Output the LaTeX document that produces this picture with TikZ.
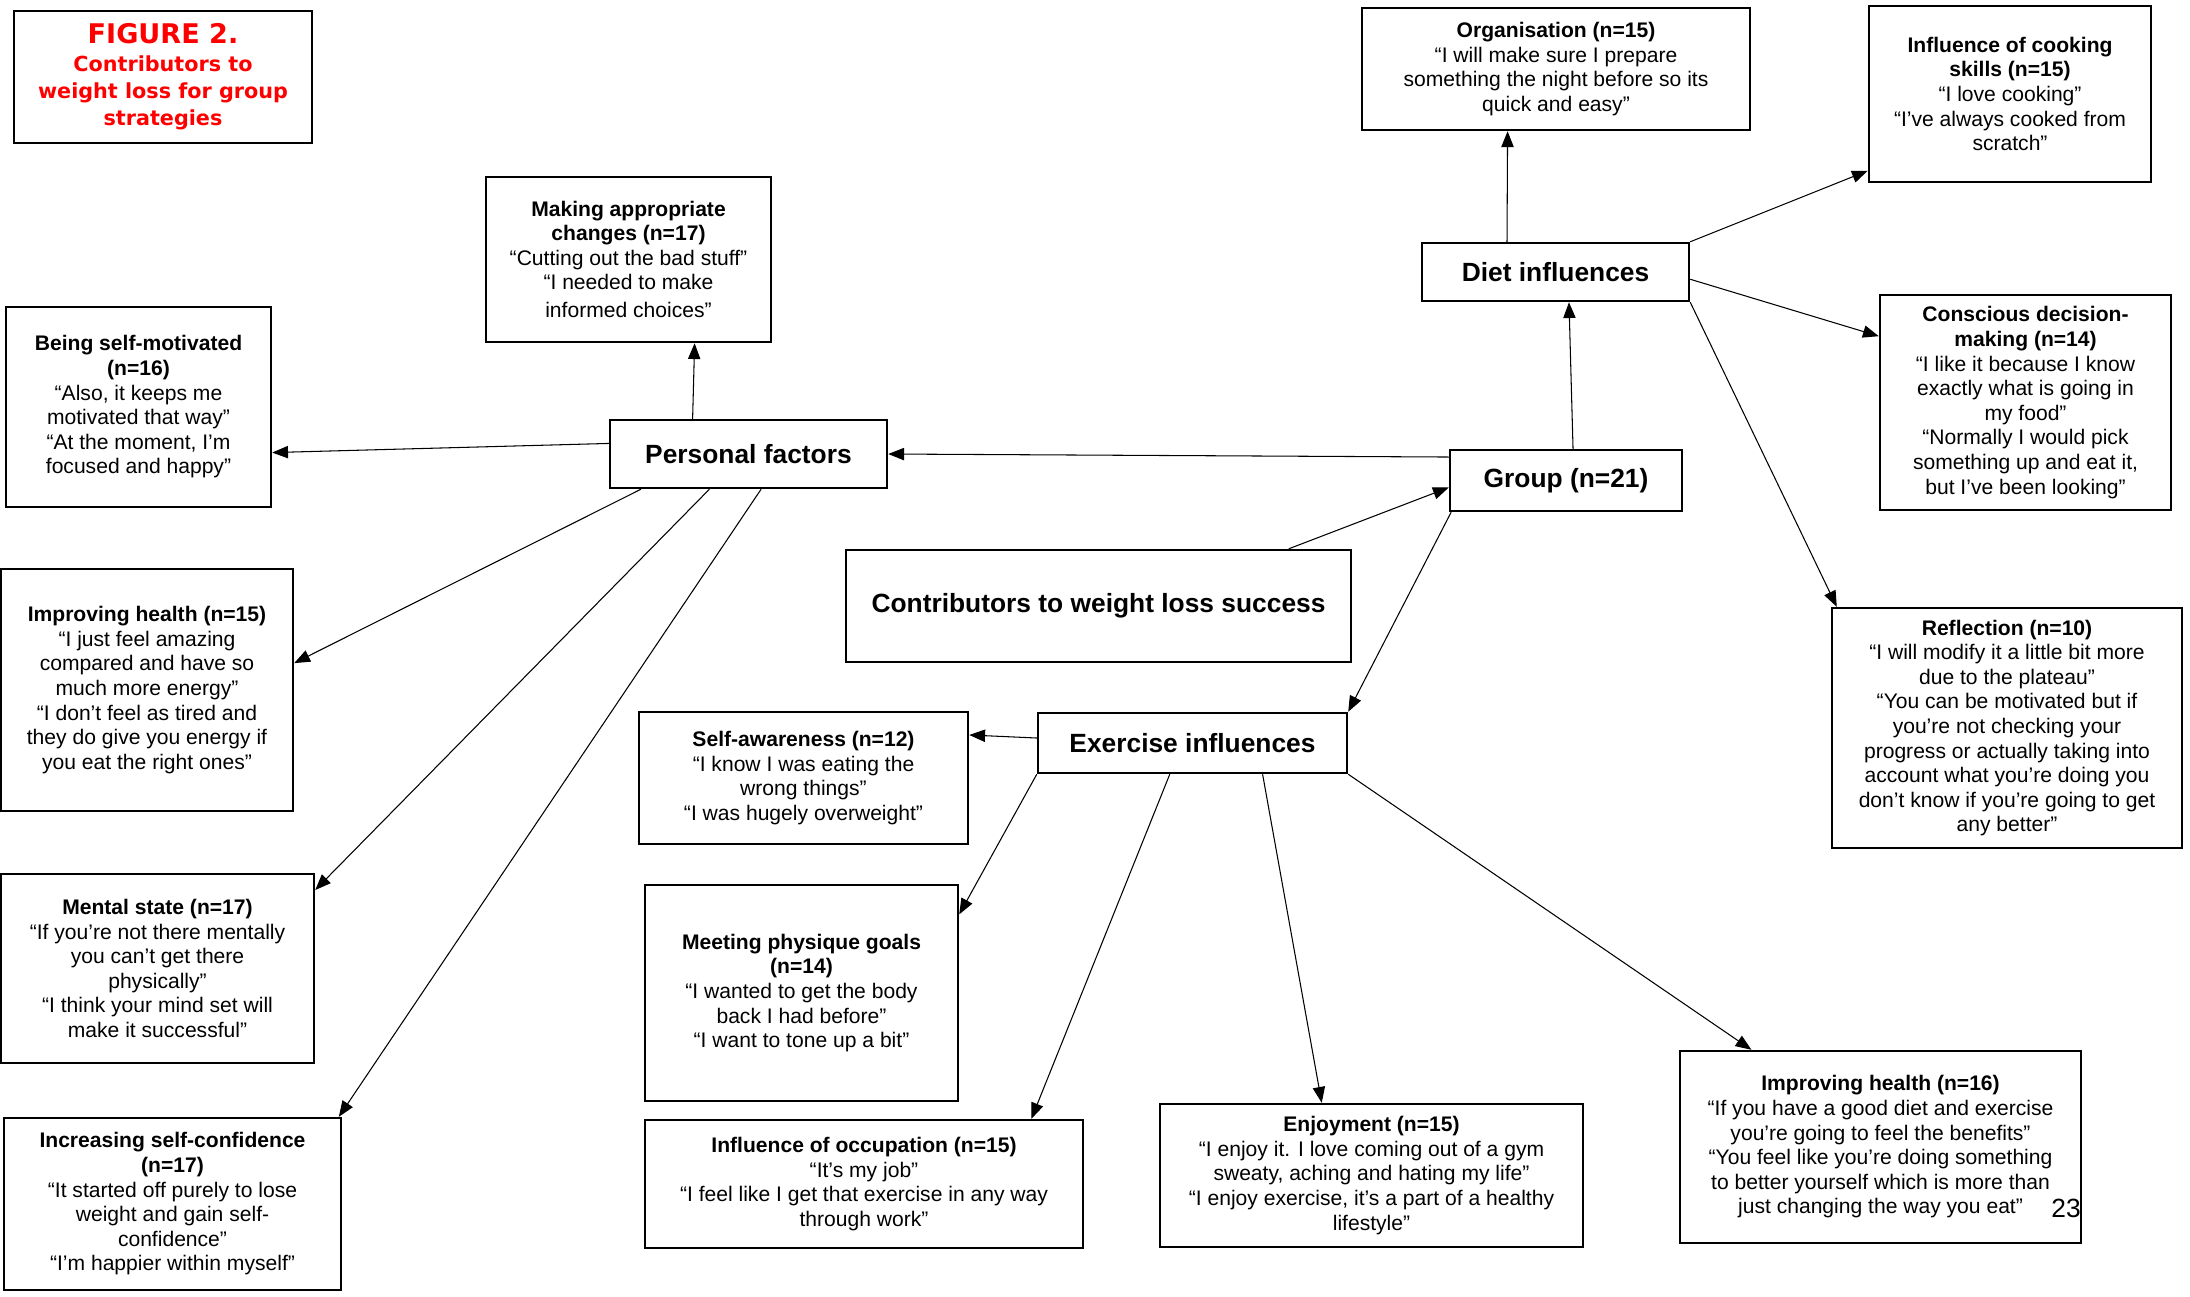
\documentclass[tikz,border=0pt]{standalone}
\usepackage{fontspec}
\setmainfont{Liberation Sans}
\newfontfamily\titlefont{DejaVu Sans}
\usetikzlibrary{arrows.meta}
\usetikzlibrary{calc}

\begin{document}
\begin{tikzpicture}[x=0.02cm, y=-0.02cm, >={Triangle[length=9pt,width=7pt]},
	box/.style={draw, line width=1.4pt, align=center, inner sep=0pt, font=\fontsize{12}{14}\selectfont},
	head/.style={box, font=\fontsize{15}{18}\selectfont\bfseries},
	sz/.style 2 args={minimum width=#1*0.02cm, minimum height=#2*0.02cm},
	link/.style={->, line width=0.6pt}]
	\useasboundingbox (0,0) rectangle (2190,1296);
	
	% Titel
	\node[box, sz={298}{132}, text=red, font=\titlefont\fontsize{11.8}{15.5}\selectfont\bfseries] (fig) at (163,77)
		{{\fontsize{15.4}{17}\selectfont FIGURE 2.}\\Contributors to\\weight loss for group\\strategies};
	
	% Hauptknoten
	\node[head, sz={505}{112}] (cws) at (1098.5,606) {Contributors to weight loss success};
	\node[head, sz={232}{61}] (grp) at (1566,480.5) {Group (n=21)};
	\node[head, sz={277}{68}] (pf) at (748.5,454) {Personal factors};
	\node[head, sz={267}{58}] (diet) at (1555.5,272) {Diet influences};
	\node[head, sz={309}{60}] (ex) at (1192.5,743) {Exercise influences};
	
	% Personal factors
	\node[box, sz={285}{165}] (mac) at (628.5,259.5)
		{\textbf{Making appropriate}\\\textbf{changes (n=17)}\\“Cutting out the bad stuff”\\“I needed to make\\[2pt]informed choices”};
	\node[box, sz={265}{200}] (bsm) at (138.5,407)
		{\textbf{Being self-motivated}\\\textbf{(n=16)}\\“Also, it keeps me\\motivated that way”\\“At the moment, I’m\\focused and happy”};
	\node[box, sz={292}{242}] (ih15) at (147,690)
		{\textbf{Improving health (n=15)}\\“I just feel amazing\\compared and have so\\much more energy”\\“I don’t feel as tired and\\they do give you energy if\\you eat the right ones”};
	\node[box, sz={313}{189}] (ms) at (157.5,968.5)
		{\textbf{Mental state (n=17)}\\“If you’re not there mentally\\you can’t get there\\physically”\\“I think your mind set will\\make it successful”};
	\node[box, sz={337}{172}] (isc) at (172.5,1204)
		{\textbf{Increasing self-confidence}\\\textbf{(n=17)}\\“It started off purely to lose\\weight and gain self-\\confidence”\\“I’m happier within myself”};
	
	% Diet influences
	\node[box, sz={388}{122}] (org) at (1556,69)
		{\textbf{Organisation (n=15)}\\“I will make sure I prepare\\something the night before so its\\quick and easy”};
	\node[box, sz={282}{176}] (cook) at (2010,94)
		{\textbf{Influence of cooking}\\\textbf{skills (n=15)}\\“I love cooking”\\“I’ve always cooked from\\scratch”};
	\node[box, sz={291}{215}] (cdm) at (2025.5,402.5)
		{\textbf{Conscious decision-}\\\textbf{making (n=14)}\\“I like it because I know\\exactly what is going in\\my food”\\“Normally I would pick\\something up and eat it,\\but I’ve been looking”};
	\node[box, sz={350}{240}] (refl) at (2007,728)
		{\textbf{Reflection (n=10)}\\“I will modify it a little bit more\\due to the plateau”\\“You can be motivated but if\\you’re not checking your\\progress or actually taking into\\account what you’re doing you\\don’t know if you’re going to get\\any better”};
	
	% Exercise influences
	\node[box, sz={329}{132}] (sa) at (803.5,778)
		{\textbf{Self-awareness (n=12)}\\“I know I was eating the\\wrong things”\\“I was hugely overweight”};
	\node[box, sz={313}{216}] (mpg) at (801.5,993)
		{\textbf{Meeting physique goals}\\\textbf{(n=14)}\\“I wanted to get the body\\back I had before”\\“I want to tone up a bit”};
	\node[box, sz={438}{128}] (occ) at (864,1184)
		{\textbf{Influence of occupation (n=15)}\\“It’s my job”\\“I feel like I get that exercise in any way\\through work”};
	\node[box, sz={423}{143}] (enj) at (1371.5,1175.5)
		{\textbf{Enjoyment (n=15)}\\“I enjoy it. I love coming out of a gym\\sweaty, aching and hating my life”\\“I enjoy exercise, it’s a part of a healthy\\lifestyle”};
	\node[box, sz={401}{192}] (ih16) at (1880.5,1147)
		{\textbf{Improving health (n=16)}\\“If you have a good diet and exercise\\you’re going to feel the benefits”\\“You feel like you’re doing something\\to better yourself which is more than\\just changing the way you eat”};
	
	% Seitenzahl
	\node[font=\fontsize{15}{18}\selectfont, inner sep=0pt] (page) at (2066,1208) {23};
	
	% Pfeile
	\draw[link] ($(cws.north west)!.875!(cws.north east)$) -- ($(grp.north west)!.61!(grp.south west)$);
	\draw[link] ($(grp.north west)!.13!(grp.south west)$) -- (pf.east);
	\draw[link] ($(grp.north west)!.53!(grp.north east)$) -- ($(diet.south west)!.55!(diet.south east)$);
	\draw[link] ($(grp.south west)!.01!(grp.south east)$) -- (ex.north east);
	
	\draw[link] ($(pf.north west)!.30!(pf.north east)$) -- ($(mac.south west)!.73!(mac.south east)$);
	\draw[link] ($(pf.north west)!.35!(pf.south west)$) -- ($(bsm.north east)!.725!(bsm.south east)$);
	\draw[link] ($(pf.south west)!.115!(pf.south east)$) -- ($(ih15.north east)!.39!(ih15.south east)$);
	\draw[link] ($(pf.south west)!.36!(pf.south east)$) -- ($(ms.north east)!.09!(ms.south east)$);
	\draw[link] ($(pf.south west)!.545!(pf.south east)$) -- ($(isc.north west)!.99!(isc.north east)$);
	
	\draw[link] ($(diet.north west)!.32!(diet.north east)$) -- ($(org.south west)!.376!(org.south east)$);
	\draw[link] (diet.north east) -- ($(cook.north west)!.93!(cook.south west)$);
	\draw[link] ($(diet.north east)!.62!(diet.south east)$) -- ($(cdm.north west)!.195!(cdm.south west)$);
	\draw[link] (diet.south east) -- ($(refl.north west)!.017!(refl.north east)$);
	
	\draw[link] ($(ex.north west)!.42!(ex.south west)$) -- ($(sa.north east)!.18!(sa.south east)$);
	\draw[link] (ex.south west) -- ($(mpg.north east)!.14!(mpg.south east)$);
	\draw[link] ($(ex.south west)!.427!(ex.south east)$) -- ($(occ.north west)!.88!(occ.north east)$);
	\draw[link] ($(ex.south west)!.725!(ex.south east)$) -- ($(enj.north west)!.383!(enj.north east)$);
	\draw[link] (ex.south east) -- ($(ih16.north west)!.18!(ih16.north east)$);
\end{tikzpicture}
\end{document}
